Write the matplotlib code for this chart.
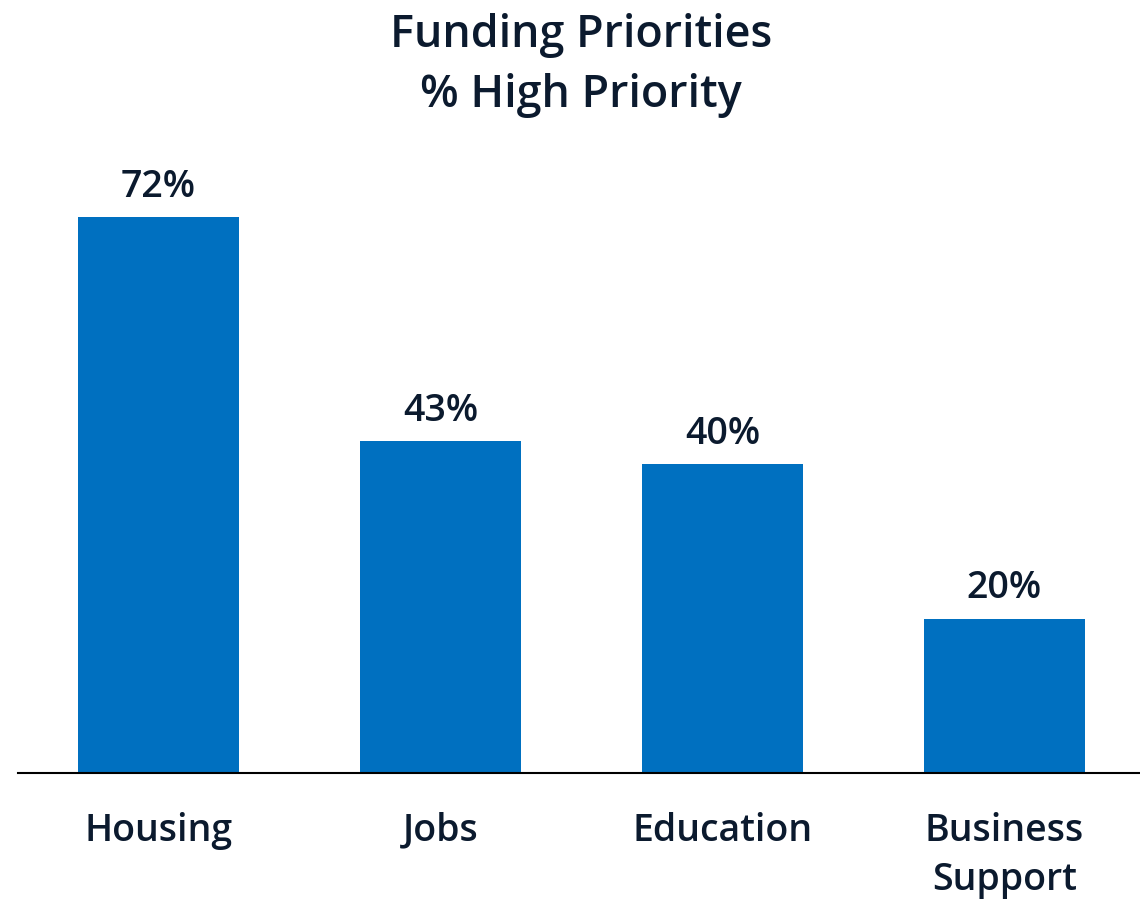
import matplotlib
matplotlib.use("Agg")
import matplotlib.pyplot as plt

categories = ["Housing", "Jobs", "Education", "Business\nSupport"]
values = [72, 43, 40, 20]
value_labels = ["72%", "43%", "40%", "20%"]
title_text = "Funding Priorities\n% High Priority"

BAR_COLOR = "#0070C0"
TEXT_COLOR = "#0B1A2E"
FONT = ["Open Sans", "DejaVu Sans"]

fig = plt.figure(figsize=(11.4, 9.01), dpi=100)
ax = fig.add_axes([18/1140, 128/901, 1122/1140, 618/901])

x = list(range(len(categories)))
ax.bar(x, values, width=0.571, color=BAR_COLOR, zorder=2)
ax.set_xlim(-0.498, 3.481)
ax.set_ylim(0, 80)

for xi, v, lab in zip(x, values, value_labels):
    ax.annotate(lab, (xi, v), xytext=(0, 8), textcoords="offset points",
                ha="center", va="bottom", fontsize=27, fontweight="semibold",
                color=TEXT_COLOR, family=FONT, clip_on=False)

ax.set_xticks(x)
ax.set_xticklabels(categories, fontsize=27, fontweight="semibold",
                   color=TEXT_COLOR, family=FONT, linespacing=1.38, va="top")
ax.tick_params(axis="x", length=0, pad=28)
ax.set_yticks([])
for s in ["top", "right", "left"]:
    ax.spines[s].set_visible(False)
ax.spines["bottom"].set_color("#000000")
ax.spines["bottom"].set_linewidth(1.5)

fig.text(581/1140, 1 - 13/901, title_text, ha="center", va="top",
         fontsize=32.3, fontweight="semibold", color=TEXT_COLOR, family=FONT,
         linespacing=1.45)

fig.savefig("out.png", dpi=100, facecolor="white")
